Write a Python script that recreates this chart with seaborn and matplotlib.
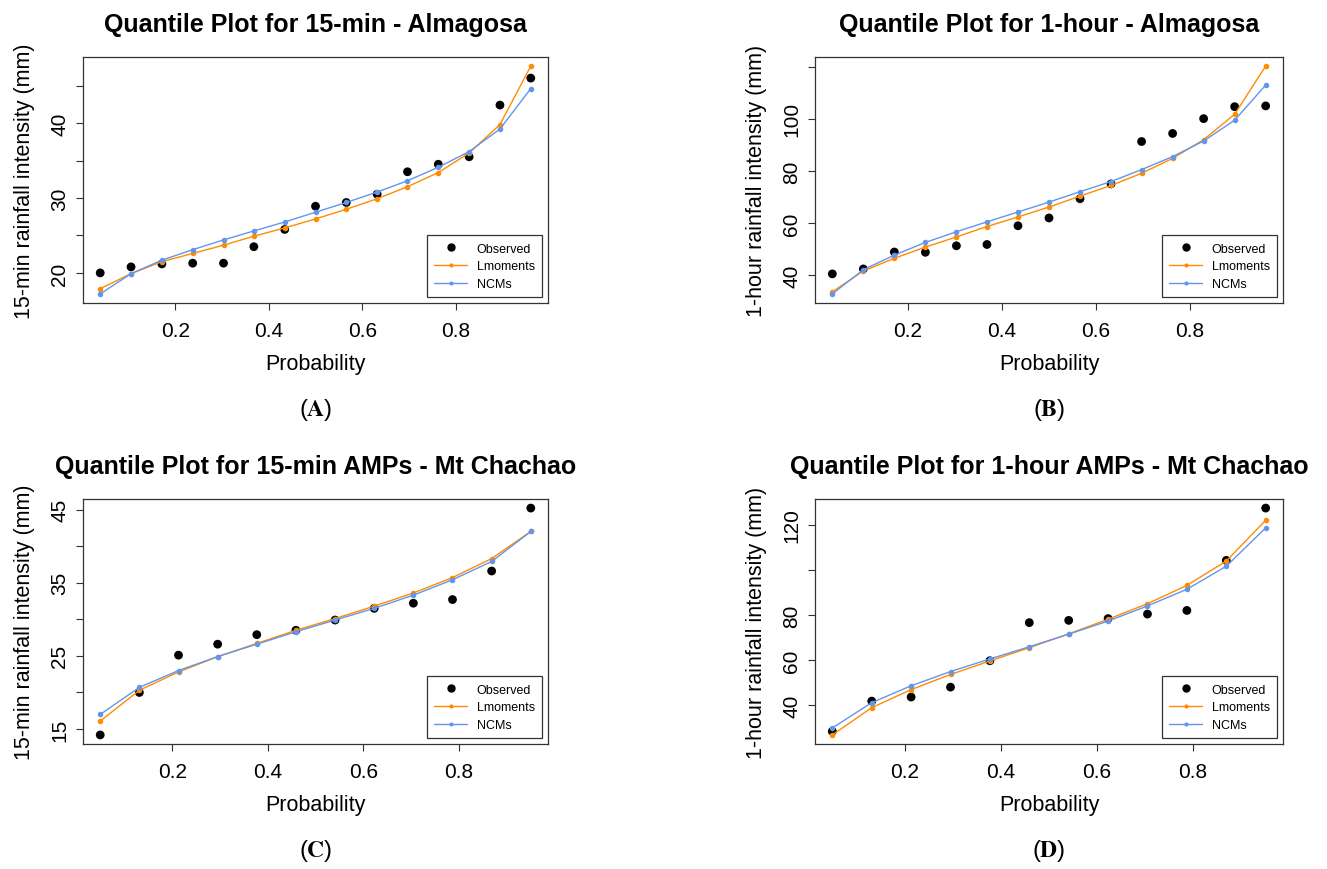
import pandas as pd
import matplotlib
matplotlib.use("Agg")
import matplotlib.pyplot as plt
from matplotlib.lines import Line2D
import seaborn as sns

# Plotting positions (probability) for each series length
prob_15 = [0.039, 0.105, 0.171, 0.237, 0.303, 0.368, 0.434, 0.500,
           0.566, 0.632, 0.697, 0.763, 0.829, 0.895, 0.961]
prob_12 = [0.049, 0.131, 0.213, 0.295, 0.377, 0.459, 0.541, 0.623,
           0.705, 0.787, 0.869, 0.951]

# (A) 15-min - Almagosa
alm15_obs = [20.0, 20.8, 21.2, 21.3, 21.3, 23.5, 25.8, 28.9, 29.4, 30.5, 33.5, 34.5, 35.5, 42.4, 46.0]
alm15_lmom = [17.9, 19.9, 21.5, 22.6, 23.7, 24.9, 26.0, 27.2, 28.5, 29.9, 31.5, 33.4, 36.0, 39.8, 47.6]
alm15_ncm = [17.2, 19.9, 21.7, 23.1, 24.4, 25.6, 26.8, 28.1, 29.4, 30.8, 32.3, 34.1, 36.2, 39.2, 44.6]

# (B) 1-hour - Almagosa
alm60_obs = [40.4, 42.3, 48.8, 48.7, 51.2, 51.7, 58.9, 61.9, 69.3, 75.0, 91.3, 94.4, 100.1, 104.7, 105.0]
alm60_lmom = [33.5, 41.5, 46.4, 50.7, 54.6, 58.6, 62.3, 66.1, 70.3, 74.4, 79.1, 84.8, 92.0, 101.8, 120.3]
alm60_ncm = [32.7, 42.0, 47.6, 52.5, 56.6, 60.4, 64.2, 68.0, 72.0, 75.9, 80.5, 85.5, 91.5, 99.5, 113.0]

# (C) 15-min AMPs - Mt Chachao
cha15_obs = [14.2, 20.0, 25.1, 26.6, 27.9, 28.5, 29.9, 31.5, 32.2, 32.7, 36.6, 45.2]
cha15_lmom = [16.1, 20.3, 22.8, 24.9, 26.7, 28.5, 30.1, 31.8, 33.6, 35.7, 38.3, 42.0]
cha15_ncm = [17.0, 20.7, 23.0, 24.9, 26.6, 28.3, 29.9, 31.5, 33.3, 35.4, 37.9, 42.0]

# (D) 1-hour AMPs - Mt Chachao
cha60_obs = [28.5, 41.9, 43.7, 48.1, 59.8, 76.7, 77.7, 78.5, 80.5, 82.1, 104.3, 127.5]
cha60_lmom = [26.9, 39.0, 47.0, 53.7, 59.7, 65.6, 71.7, 78.2, 85.1, 93.2, 104.0, 122.1]
cha60_ncm = [30.0, 41.2, 48.7, 55.0, 60.6, 66.0, 71.6, 77.4, 84.1, 91.5, 101.7, 118.7]

x_ticks = [0.2, 0.4, 0.6, 0.8]

panels = [
    {"title": "Quantile Plot for 15-min - Almagosa", "ylabel": "15-min rainfall intensity (mm)",
     "x": prob_15, "obs": alm15_obs, "lmom": alm15_lmom, "ncm": alm15_ncm,
     "yticks": [20, 25, 30, 35, 40, 45], "ylabels": ["20", "", "30", "", "40", ""], "letter": "A"},
    {"title": "Quantile Plot for 1-hour - Almagosa", "ylabel": "1-hour rainfall intensity (mm)",
     "x": prob_15, "obs": alm60_obs, "lmom": alm60_lmom, "ncm": alm60_ncm,
     "yticks": [40, 60, 80, 100, 120], "ylabels": ["40", "60", "80", "100", ""], "letter": "B"},
    {"title": "Quantile Plot for 15-min AMPs - Mt Chachao", "ylabel": "15-min rainfall intensity (mm)",
     "x": prob_12, "obs": cha15_obs, "lmom": cha15_lmom, "ncm": cha15_ncm,
     "yticks": [15, 20, 25, 30, 35, 40, 45], "ylabels": ["15", "", "25", "", "35", "", "45"], "letter": "C"},
    {"title": "Quantile Plot for 1-hour AMPs - Mt Chachao", "ylabel": "1-hour rainfall intensity (mm)",
     "x": prob_12, "obs": cha60_obs, "lmom": cha60_lmom, "ncm": cha60_ncm,
     "yticks": [40, 60, 80, 100, 120], "ylabels": ["40", "60", "80", "", "120"], "letter": "D"},
]

ORANGE = "#FF8C00"
BLUE = "#6495ED"

sns.set_theme(style="ticks")
plt.rcParams["font.family"] = ["Liberation Sans", "DejaVu Sans"]
plt.rcParams["mathtext.fontset"] = "stix"
plt.rcParams["text.color"] = "black"
plt.rcParams["axes.labelcolor"] = "black"

fig = plt.figure(figsize=(13.27, 8.70), dpi=100)
W, H = 1327, 870
# axes boxes in pixels: left, top, right, bottom
boxes = [(83, 58, 548, 304), (815, 58, 1283, 304),
         (83, 500, 548, 745), (815, 500, 1283, 745)]

for p, (l, t, r, b) in zip(panels, boxes):
    ax = fig.add_axes([l / W, 1 - b / H, (r - l) / W, (b - t) / H])
    n = len(p["x"])
    df = pd.DataFrame({
        "prob": p["x"] * 2,
        "value": p["lmom"] + p["ncm"],
        "method": ["Lmoments"] * n + ["NCMs"] * n,
    })
    obs = pd.DataFrame({"prob": p["x"], "value": p["obs"]})

    sns.scatterplot(data=obs, x="prob", y="value", color="black", s=40,
                    edgecolor="none", ax=ax, zorder=2)
    sns.lineplot(data=df, x="prob", y="value", hue="method",
                 palette={"Lmoments": ORANGE, "NCMs": BLUE}, marker="o",
                 markersize=4, markeredgewidth=0, linewidth=1, sort=False,
                 legend=False, ax=ax, zorder=3)

    ax.margins(x=0.04, y=0.04)
    ax.set_xticks(x_ticks)
    ax.set_xticklabels([f"{v:.1f}" for v in x_ticks])
    ax.set_yticks(p["yticks"])
    ax.set_yticklabels(p["ylabels"], rotation=90, va="center")
    ax.tick_params(direction="out", length=5, width=0.8, labelsize=15,
                   colors="#333333", labelcolor="black")
    ax.tick_params(axis="x", pad=8)
    ax.tick_params(axis="y", pad=5)
    for s in ax.spines.values():
        s.set_visible(True)
        s.set_linewidth(0.9)
        s.set_color("#333333")

    ax.set_title(p["title"], fontsize=18, fontweight="bold", pad=19, color="black")
    ax.set_xlabel("Probability", fontsize=15.5, labelpad=9)
    ax.set_ylabel(p["ylabel"], fontsize=15.5, labelpad=11)

    handles = [
        Line2D([], [], color="black", marker="o", linestyle="none", markersize=5),
        Line2D([], [], color=ORANGE, marker="o", markersize=3, markeredgewidth=0, linewidth=1),
        Line2D([], [], color=BLUE, marker="o", markersize=3, markeredgewidth=0, linewidth=1),
    ]
    leg = ax.legend(handles, ["Observed", "Lmoments", "NCMs"], loc="lower right",
                    fontsize=9, frameon=True, fancybox=False, borderaxespad=0.45,
                    handlelength=2.6, labelspacing=0.45, borderpad=0.6)
    leg.get_frame().set_edgecolor("black")
    leg.get_frame().set_linewidth(0.9)

    fig.text((l + r) / 2 / W, 1 - (b + 106) / H, rf"($\mathbf{{{p['letter']}}}$)",
             ha="center", va="center", fontsize=17)

fig.savefig("out.png", dpi=100)
